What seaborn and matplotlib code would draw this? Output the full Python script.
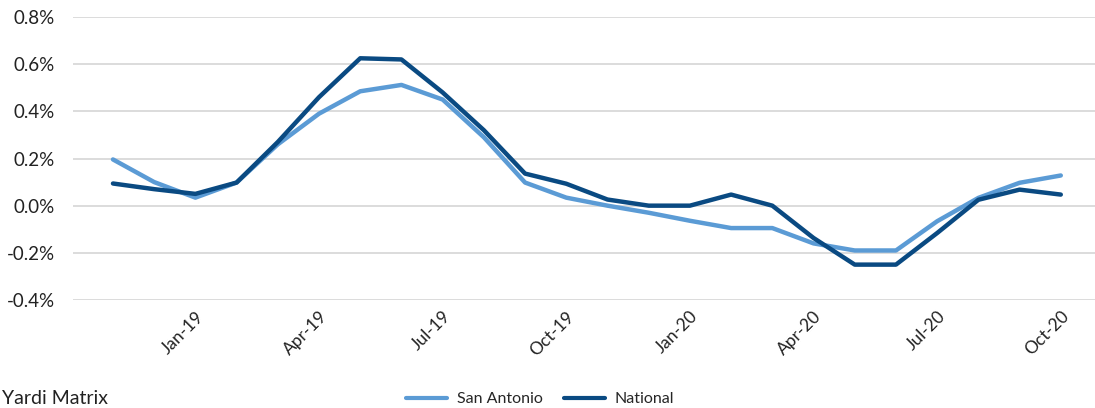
import matplotlib
matplotlib.use("Agg")
import matplotlib.pyplot as plt
import matplotlib.ticker as mticker
from matplotlib.lines import Line2D
import seaborn as sns
import pandas as pd

months = ["Nov-18", "Dec-18", "Jan-19", "Feb-19", "Mar-19", "Apr-19", "May-19", "Jun-19",
          "Jul-19", "Aug-19", "Sep-19", "Oct-19", "Nov-19", "Dec-19", "Jan-20", "Feb-20",
          "Mar-20", "Apr-20", "May-20", "Jun-20", "Jul-20", "Aug-20", "Sep-20", "Oct-20"]
san_antonio = [0.196, 0.10, 0.034, 0.098, 0.26, 0.39, 0.485, 0.512, 0.45, 0.29, 0.098, 0.034,
               0.0, -0.03, -0.064, -0.095, -0.095, -0.16, -0.19, -0.19, -0.066, 0.033, 0.097, 0.128]
national = [0.094, 0.07, 0.05, 0.098, 0.27, 0.46, 0.625, 0.62, 0.48, 0.32, 0.136, 0.093,
            0.026, 0.0, 0.0, 0.047, 0.0, -0.137, -0.25, -0.25, -0.116, 0.025, 0.068, 0.047]
tick_labels = ["Jan-19", "Apr-19", "Jul-19", "Oct-19", "Jan-20", "Apr-20", "Jul-20", "Oct-20"]

light_blue = "#5B9BD5"
dark_blue = "#0A4A82"

df = pd.DataFrame({
    "idx": list(range(len(months))) * 2,
    "value": san_antonio + national,
    "series": ["San Antonio"] * len(months) + ["National"] * len(months),
})

sns.set_style("white")
plt.rcParams["font.family"] = ["Lato", "DejaVu Sans"]

fig = plt.figure(figsize=(10.95, 4.08), dpi=100)
ax = fig.add_axes([73 / 1095, 1 - 300 / 408, 1 - 73 / 1095, (300 - 17) / 408])

sns.lineplot(data=df, x="idx", y="value", hue="series",
             palette={"San Antonio": light_blue, "National": dark_blue},
             hue_order=["San Antonio", "National"],
             linewidth=3.2, ax=ax, legend=False, zorder=3)

ax.set_ylim(-0.4, 0.8)
ax.set_xlim(-0.97, 23.83)
ax.yaxis.set_major_locator(mticker.MultipleLocator(0.2))
ax.yaxis.set_major_formatter(mticker.FuncFormatter(lambda v, p: f"{v:.1f}%"))
ax.grid(axis="y", color="#D9D9D9", linewidth=1.3, zorder=0)
ax.grid(axis="x", visible=False)
for s in ax.spines.values():
    s.set_visible(False)

tick_pos = [months.index(t) for t in tick_labels]
ax.set_xticks(tick_pos)
ax.set_xticklabels(tick_labels, rotation=45, ha="right", rotation_mode="anchor")
ax.tick_params(axis="x", labelsize=12.5, colors="#222222", pad=6, length=0)
ax.tick_params(axis="y", labelsize=13.5, colors="#222222", pad=13, length=0)
ax.set_xlabel("")
ax.set_ylabel("")

handles = [Line2D([0], [0], color=light_blue, lw=3),
           Line2D([0], [0], color=dark_blue, lw=3)]
fig.legend(handles, ["San Antonio", "National"], loc="center",
           bbox_to_anchor=(540 / 1095, 1 - 399 / 408), ncol=2, frameon=False,
           fontsize=11.5, handlelength=2.6, columnspacing=1.3, handletextpad=0.6)

fig.text(2 / 1095, 1 / 408, "Yardi Matrix", fontsize=14, va="bottom", ha="left",
         color="#222222")

fig.savefig("out.png", dpi=100)
